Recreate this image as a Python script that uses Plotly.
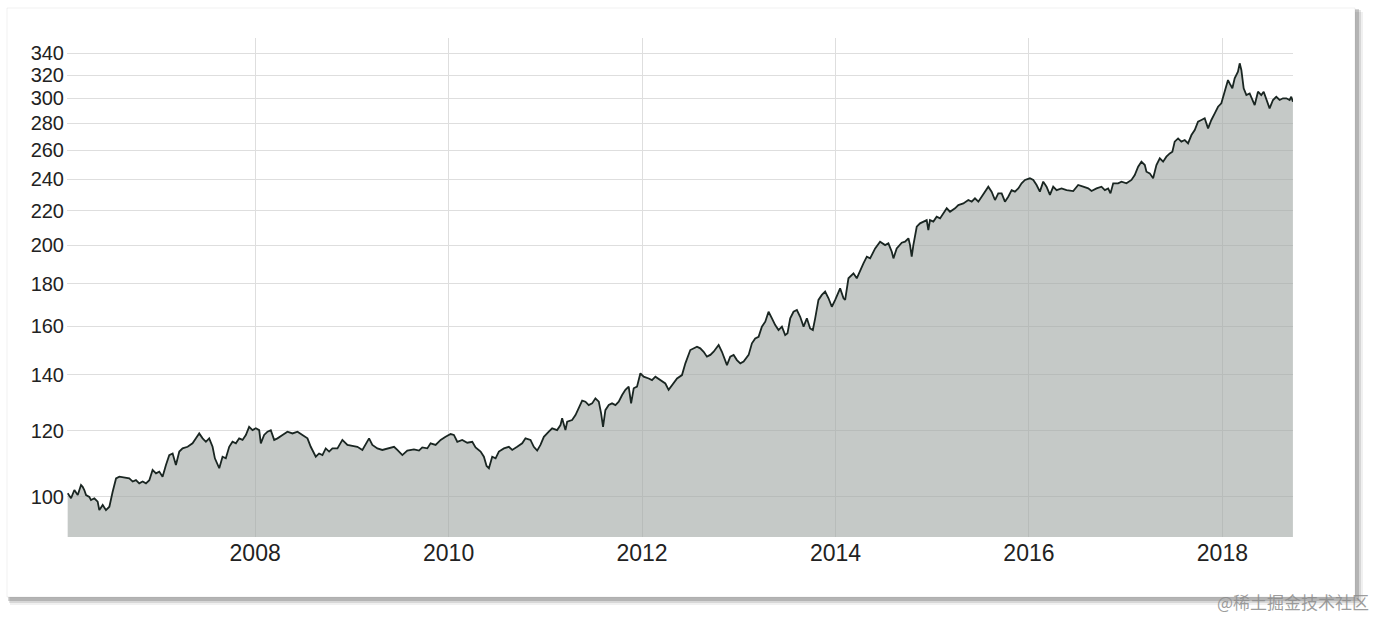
import plotly.graph_objects as go

# ---- data (decimal year, index value) ----
years = [
    2006.062, 2006.097, 2006.131, 2006.166, 2006.200, 2006.217, 2006.234, 2006.252, 2006.286, 2006.303,
    2006.338, 2006.372, 2006.389, 2006.424, 2006.458, 2006.493, 2006.527, 2006.562, 2006.596, 2006.648,
    2006.699, 2006.734, 2006.768, 2006.802, 2006.837, 2006.871, 2006.906, 2006.940, 2006.975, 2007.009,
    2007.043, 2007.078, 2007.112, 2007.147, 2007.181, 2007.216, 2007.250, 2007.302, 2007.353, 2007.388,
    2007.422, 2007.457, 2007.491, 2007.525, 2007.560, 2007.584, 2007.611, 2007.629, 2007.663, 2007.697,
    2007.732, 2007.766, 2007.801, 2007.835, 2007.870, 2007.904, 2007.938, 2007.973, 2008.007, 2008.042,
    2008.059, 2008.093, 2008.128, 2008.162, 2008.197, 2008.231, 2008.283, 2008.334, 2008.386, 2008.438,
    2008.489, 2008.541, 2008.575, 2008.627, 2008.661, 2008.696, 2008.730, 2008.765, 2008.799, 2008.851,
    2008.902, 2008.954, 2009.005, 2009.057, 2009.109, 2009.143, 2009.178, 2009.212, 2009.264, 2009.315,
    2009.367, 2009.436, 2009.470, 2009.522, 2009.573, 2009.642, 2009.694, 2009.728, 2009.780, 2009.814,
    2009.866, 2009.918, 2009.969, 2010.021, 2010.055, 2010.090, 2010.141, 2010.193, 2010.245, 2010.279,
    2010.331, 2010.365, 2010.393, 2010.417, 2010.451, 2010.486, 2010.520, 2010.572, 2010.623, 2010.658,
    2010.709, 2010.761, 2010.795, 2010.847, 2010.881, 2010.916, 2010.950, 2010.985, 2011.036, 2011.071,
    2011.122, 2011.157, 2011.174, 2011.208, 2011.226, 2011.277, 2011.312, 2011.346, 2011.381, 2011.415,
    2011.449, 2011.484, 2011.518, 2011.553, 2011.577, 2011.597, 2011.621, 2011.656, 2011.690, 2011.725,
    2011.759, 2011.794, 2011.828, 2011.862, 2011.887, 2011.914, 2011.948, 2011.983, 2012.017, 2012.069,
    2012.103, 2012.138, 2012.189, 2012.241, 2012.275, 2012.310, 2012.362, 2012.413, 2012.448, 2012.499,
    2012.534, 2012.568, 2012.602, 2012.637, 2012.671, 2012.706, 2012.740, 2012.775, 2012.792, 2012.826,
    2012.861, 2012.878, 2012.912, 2012.947, 2012.981, 2013.016, 2013.050, 2013.102, 2013.136, 2013.170,
    2013.205, 2013.239, 2013.274, 2013.308, 2013.343, 2013.377, 2013.411, 2013.446, 2013.480, 2013.504,
    2013.532, 2013.566, 2013.601, 2013.635, 2013.670, 2013.704, 2013.738, 2013.766, 2013.790, 2013.824,
    2013.859, 2013.893, 2013.928, 2013.962, 2013.997, 2014.048, 2014.083, 2014.100, 2014.134, 2014.186,
    2014.220, 2014.255, 2014.289, 2014.324, 2014.358, 2014.410, 2014.461, 2014.513, 2014.547, 2014.582,
    2014.599, 2014.633, 2014.685, 2014.719, 2014.754, 2014.771, 2014.788, 2014.805, 2014.840, 2014.874,
    2014.909, 2014.943, 2014.960, 2014.977, 2015.012, 2015.046, 2015.081, 2015.115, 2015.150, 2015.184,
    2015.236, 2015.270, 2015.322, 2015.373, 2015.408, 2015.442, 2015.477, 2015.511, 2015.545, 2015.580,
    2015.614, 2015.649, 2015.683, 2015.718, 2015.752, 2015.786, 2015.821, 2015.855, 2015.890, 2015.924,
    2015.959, 2016.010, 2016.045, 2016.079, 2016.113, 2016.148, 2016.182, 2016.217, 2016.251, 2016.286,
    2016.337, 2016.389, 2016.458, 2016.509, 2016.561, 2016.613, 2016.647, 2016.699, 2016.750, 2016.785,
    2016.819, 2016.843, 2016.871, 2016.922, 2016.957, 2017.008, 2017.060, 2017.094, 2017.129, 2017.163,
    2017.198, 2017.215, 2017.249, 2017.284, 2017.318, 2017.353, 2017.387, 2017.421, 2017.456, 2017.483,
    2017.507, 2017.542, 2017.576, 2017.611, 2017.645, 2017.680, 2017.714, 2017.748, 2017.783, 2017.817,
    2017.852, 2017.886, 2017.921, 2017.955, 2017.989, 2018.024, 2018.058, 2018.075, 2018.103, 2018.127,
    2018.161, 2018.179, 2018.196, 2018.220, 2018.248, 2018.282, 2018.316, 2018.334, 2018.368, 2018.402,
    2018.427, 2018.454, 2018.488, 2018.523, 2018.557, 2018.592, 2018.626, 2018.661, 2018.695, 2018.712,
    2018.729,
]

values = [
    101.0, 99.6, 101.9, 100.5, 103.3, 102.8, 101.9, 100.5, 100.0, 99.1,
    99.6, 98.7, 96.4, 97.8, 96.4, 97.3, 101.4, 105.2, 105.7, 105.4,
    105.2, 104.3, 104.7, 103.8, 104.3, 103.8, 104.7, 107.7, 106.7, 107.2,
    105.7, 109.2, 112.2, 112.7, 109.2, 113.3, 114.3, 114.8, 115.9, 117.5,
    119.1, 117.5, 116.4, 117.5, 114.8, 111.2, 109.2, 108.2, 111.7, 111.2,
    114.8, 116.4, 115.9, 117.5, 117.0, 118.6, 121.3, 120.2, 120.8, 120.2,
    115.9, 118.6, 119.7, 120.2, 117.0, 117.5, 118.6, 119.7, 119.1, 119.7,
    118.6, 117.5, 114.8, 111.7, 112.7, 112.2, 114.3, 113.3, 114.3, 114.3,
    117.0, 115.4, 115.1, 114.8, 113.8, 115.4, 117.5, 115.4, 114.3, 113.8,
    114.3, 114.8, 113.8, 112.2, 113.6, 114.0, 113.6, 114.6, 114.3, 115.9,
    115.4, 117.0, 118.0, 118.9, 118.6, 116.4, 117.0, 116.1, 116.4, 114.6,
    113.3, 111.7, 108.9, 108.2, 111.7, 111.2, 113.3, 114.3, 114.8, 113.8,
    114.8, 115.9, 117.5, 117.0, 114.8, 113.6, 115.4, 118.0, 119.7, 120.8,
    120.2, 121.9, 124.2, 120.2, 123.0, 123.6, 125.3, 127.6, 130.4, 130.0,
    128.8, 129.4, 131.2, 130.0, 125.9, 121.3, 127.0, 128.8, 129.4, 128.8,
    130.0, 132.4, 134.3, 135.5, 129.4, 134.9, 135.5, 140.6, 139.3, 138.6,
    138.0, 139.3, 138.0, 136.7, 134.3, 136.1, 138.6, 139.9, 144.5, 149.9,
    150.6, 151.3, 150.6, 149.2, 147.2, 147.9, 149.2, 151.3, 152.0, 149.2,
    145.2, 143.8, 147.2, 147.9, 145.8, 144.5, 145.2, 147.9, 152.7, 154.8,
    155.5, 159.9, 162.1, 166.6, 163.6, 160.6, 158.4, 159.9, 156.2, 157.0,
    163.6, 166.6, 167.4, 164.3, 159.9, 163.6, 159.1, 158.4, 163.6, 172.1,
    174.5, 176.1, 172.9, 168.9, 172.1, 177.7, 172.9, 172.1, 182.7, 185.2,
    182.7, 186.9, 190.4, 193.9, 193.0, 198.4, 202.1, 200.2, 201.2, 196.6,
    193.0, 198.4, 201.5, 202.1, 204.0, 200.2, 193.9, 200.2, 210.6, 212.6,
    213.6, 214.5, 208.7, 214.5, 213.6, 216.5, 215.5, 218.5, 221.6, 219.5,
    221.6, 223.6, 224.6, 226.7, 225.7, 227.8, 225.7, 228.8, 232.0, 235.2,
    232.0, 226.7, 230.9, 230.9, 225.7, 228.8, 233.0, 232.0, 234.1, 237.4,
    239.6, 240.7, 239.6, 236.3, 232.0, 238.5, 235.2, 229.9, 235.2, 233.0,
    234.1, 233.0, 232.4, 236.3, 235.2, 234.1, 232.4, 234.1, 235.2, 233.0,
    234.1, 230.9, 237.4, 237.4, 238.5, 237.4, 239.6, 242.9, 248.5, 252.0,
    249.7, 245.1, 244.0, 240.7, 249.7, 254.3, 252.0, 255.5, 257.8, 259.0,
    266.3, 268.7, 266.3, 267.5, 265.0, 271.2, 275.0, 281.4, 282.7, 284.0,
    276.2, 282.7, 287.9, 293.2, 296.0, 305.6, 315.6, 312.7, 308.5, 317.1,
    323.0, 330.5, 324.5, 308.5, 302.8, 304.2, 298.7, 294.6, 305.6, 302.8,
    305.6, 300.1, 291.9, 298.7, 301.4, 298.7, 300.1, 300.1, 298.7, 301.4,
    297.3,
]

y_ticks = [100, 120, 140, 160, 180, 200, 220, 240, 260, 280, 300, 320, 340]
y_tick_labels = [str(v) for v in y_ticks]
x_ticks = [2008, 2010, 2012, 2014, 2016, 2018]
x_tick_labels = [str(v) for v in x_ticks]

# ---- layout geometry (pixels) ----
W, H = 1379, 617
L, R, T, B = 67, 86, 38, 80
PW, PH = W - L - R, H - T - B


def px(x):
    return (x - L) / PW


def py(y):
    return (H - B - y) / PH


fig = go.Figure()
fig.add_trace(go.Scatter(
    x=years, y=values, mode="lines",
    line=dict(color="#1a2622", width=1.8),
    fill="tozeroy", fillcolor="rgba(158,165,162,0.6)",
    hoverinfo="skip", showlegend=False,
))

shapes = []
# soft shadow of the card
for (dx0, dy0, dx1, dy1, a) in [(10, 12, 1363, 605, 0.06), (9, 10, 1361, 603, 0.10),
                                (8, 9, 1359, 601, 0.16)]:
    shapes.append(dict(type="rect", xref="paper", yref="paper", layer="below",
                       x0=px(dx0), x1=px(dx1), y0=py(dy1), y1=py(dy0),
                       fillcolor=f"rgba(0,0,0,{a})", line=dict(width=0)))
# white card
shapes.append(dict(type="rect", xref="paper", yref="paper", layer="below",
                   x0=px(7), x1=px(1355), y0=py(597), y1=py(8),
                   fillcolor="white", line=dict(color="rgba(0,0,0,0.06)", width=1)))

font_family = "Liberation Sans, Arial, Helvetica, sans-serif"

fig.update_layout(
    width=W, height=H,
    margin=dict(l=L, r=R, t=T, b=B, pad=0),
    paper_bgcolor="white", plot_bgcolor="rgba(0,0,0,0)",
    shapes=shapes,
    showlegend=False,
    font=dict(family=font_family, color="#222"),
    xaxis=dict(
        range=[2006.055, 2018.73], tickmode="array", tickvals=x_ticks, ticktext=x_tick_labels,
        showgrid=True, gridcolor="#dedede", gridwidth=1, zeroline=False, showline=False,
        ticks="", tickfont=dict(size=23, color="#222", family=font_family),
    ),
    yaxis=dict(
        type="log", range=[1.9519, 2.5495], tickmode="array", tickvals=y_ticks,
        ticktext=y_tick_labels, showgrid=True, gridcolor="#dedede", gridwidth=1,
        zeroline=False, showline=False, ticks="", ticklabelstandoff=2,
        tickfont=dict(size=20, color="#222", family=font_family),
    ),
    annotations=[dict(
        text="@稀土掘金技术社区", xref="paper", yref="paper",
        x=px(1371), y=py(601), xanchor="right", yanchor="middle", showarrow=False,
        font=dict(size=17, color="rgba(140,140,140,0.85)",
                  family="Noto Sans CJK SC, sans-serif"),
    )],
)

fig.write_html("out.html", config={"displayModeBar": False},
               post_script="document.body.style.margin='0';")
